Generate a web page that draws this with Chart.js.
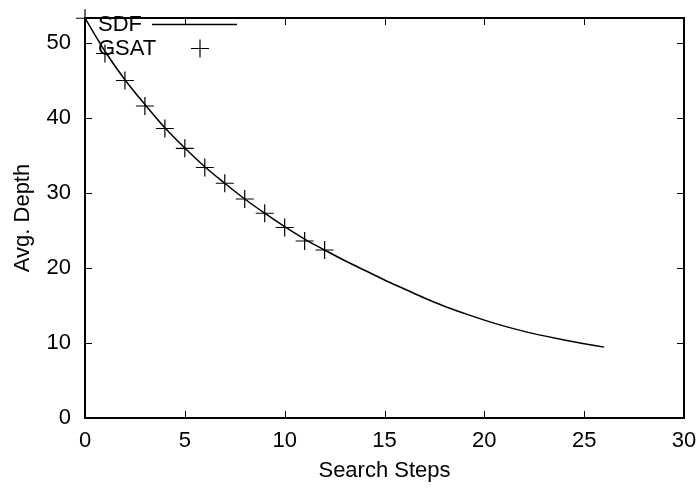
<!DOCTYPE html>
<html>
<head>
<meta charset="utf-8">
<script src="https://cdn.jsdelivr.net/npm/chart.js@4.4.1/dist/chart.umd.min.js"></script>
<style>
  html, body { margin: 0; padding: 0; background: #fff; }
</style>
</head>
<body>
<canvas id="depthChart" width="696" height="489"></canvas>
<script>
// values
const sdfSteps = [0, 1, 2, 3, 4, 5, 6, 7, 8, 9, 10, 11, 12, 13, 14, 15, 16, 17, 18, 19, 20, 21, 22, 23, 24, 25, 26];
const sdfDepth = [53.3, 48.9, 45.1, 41.8, 38.7, 36.0, 33.5, 31.3, 29.2, 27.3, 25.5, 23.85, 22.4, 21.0, 19.7, 18.4, 17.2, 16.0, 14.9, 13.95, 13.05, 12.25, 11.55, 10.95, 10.4, 9.9, 9.45];
const gsatSteps = [0, 1, 2, 3, 4, 5, 6, 7, 8, 9, 10, 11, 12];
const gsatDepth = [53.3, 48.6, 45.0, 41.6, 38.6, 35.95, 33.4, 31.3, 29.2, 27.3, 25.4, 23.6, 22.4];
const xTicks = [0, 5, 10, 15, 20, 25, 30];
const yTicks = [0, 10, 20, 30, 40, 50];

Chart.defaults.font.family = '"Liberation Sans", Arial, sans-serif';
Chart.defaults.font.size = 22;
Chart.defaults.color = '#000';

function toPoints(xs, ys) {
    return xs.map((x, i) => ({ x: x, y: ys[i] }));
}

// keep the plot box where the reference has it
function noLabelPadding(scale) {
    scale.paddingTop = 0;
    scale.paddingBottom = 0;
    scale.paddingLeft = 0;
    scale.paddingRight = 0;
}

// gnuplot style frame with inward, mirrored ticks
const frameTicks = {
    id: 'frameTicks',
    afterDatasetsDraw(chart) {
        const ctx = chart.ctx;
        const a = chart.chartArea;
        const xs = chart.scales.x;
        const ys = chart.scales.y;
        const len = 7;
        ctx.save();
        ctx.strokeStyle = '#000';
        ctx.lineWidth = 1;
        ctx.beginPath();
        xTicks.slice(1, -1).forEach((v) => {
            const px = Math.round(xs.getPixelForValue(v)) + 0.5;
            ctx.moveTo(px, a.bottom); ctx.lineTo(px, a.bottom - len);
            ctx.moveTo(px, a.top); ctx.lineTo(px, a.top + len);
        });
        yTicks.slice(1).forEach((v) => {
            const py = Math.round(ys.getPixelForValue(v)) + 0.5;
            ctx.moveTo(a.left, py); ctx.lineTo(a.left + len, py);
            ctx.moveTo(a.right, py); ctx.lineTo(a.right - len, py);
        });
        ctx.stroke();
        ctx.lineWidth = 2;
        ctx.strokeRect(a.left, a.top, a.right - a.left, a.bottom - a.top);
        ctx.restore();
    }
};

// key in the top left corner, like gnuplot draws it
const gnuKey = {
    id: 'gnuKey',
    afterDraw(chart) {
        const ctx = chart.ctx;
        ctx.save();
        ctx.fillStyle = '#000';
        ctx.strokeStyle = '#000';
        ctx.font = '22px "Liberation Sans", Arial, sans-serif';
        ctx.textBaseline = 'middle';
        ctx.textAlign = 'left';
        ctx.fillText(chart.data.datasets[0].label, 98, 25);
        ctx.fillText(chart.data.datasets[1].label, 98, 49);
        ctx.lineWidth = 1.5;
        ctx.beginPath();
        ctx.moveTo(152, 24.5); ctx.lineTo(237, 24.5);
        ctx.stroke();
        ctx.lineWidth = 1.2;
        ctx.beginPath();
        ctx.moveTo(191, 48.5); ctx.lineTo(209, 48.5);
        ctx.moveTo(200, 39.5); ctx.lineTo(200, 57.5);
        ctx.stroke();
        ctx.restore();
    }
};

const depthChart = new Chart(document.getElementById('depthChart').getContext('2d'), {
    type: 'scatter',
    data: {
        datasets: [{
            label: 'SDF',
            data: toPoints(sdfSteps, sdfDepth),
            showLine: true,
            borderColor: '#000',
            borderWidth: 1.5,
            pointRadius: 0,
            cubicInterpolationMode: 'monotone',
            clip: false
        }, {
            label: 'GSAT',
            data: toPoints(gsatSteps, gsatDepth),
            showLine: false,
            pointStyle: 'cross',
            pointRadius: 9,
            borderColor: '#000',
            borderWidth: 1.2,
            clip: false
        }]
    },
    options: {
        responsive: false,
        animation: false,
        devicePixelRatio: 1,
        layout: {
            padding: { top: 18, right: 12, left: 0, bottom: 0 }
        },
        plugins: {
            legend: { display: false },
            tooltip: { enabled: false }
        },
        scales: {
            x: {
                type: 'linear',
                min: 0,
                max: 30,
                afterBuildTicks: (scale) => { scale.ticks = xTicks.map((v) => ({ value: v })); },
                afterFit: (scale) => { scale.height = 71; noLabelPadding(scale); },
                grid: { display: false, drawTicks: false },
                border: { display: false },
                ticks: { padding: 10 },
                title: {
                    display: true,
                    text: 'Search Steps',
                    padding: { top: 4, bottom: 5 }
                }
            },
            y: {
                type: 'linear',
                min: 0,
                max: 53.33,
                afterBuildTicks: (scale) => { scale.ticks = yTicks.map((v) => ({ value: v })); },
                afterFit: (scale) => { scale.width = 85; noLabelPadding(scale); },
                grid: { display: false, drawTicks: false },
                border: { display: false },
                ticks: { padding: 14 },
                title: {
                    display: true,
                    text: 'Avg. Depth',
                    padding: { top: 10, bottom: 4 }
                }
            }
        }
    },
    plugins: [frameTicks, gnuKey]
});
</script>
</body>
</html>
